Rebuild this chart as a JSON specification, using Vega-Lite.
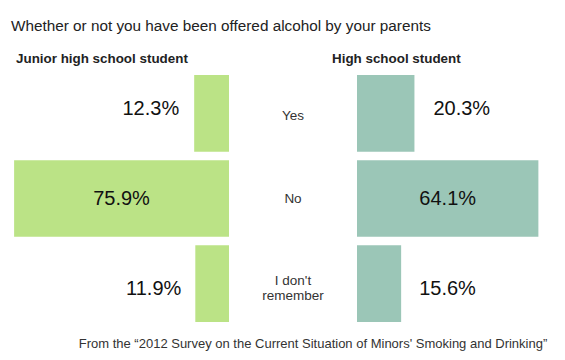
{
  "$schema": "https://vega.github.io/schema/vega-lite/v6.json",
  "padding": {"left": 11, "top": 19, "right": 0, "bottom": 0},
  "background": "white",
  "title": {"text": "Whether or not you have been offered alcohol by your parents", "anchor": "start", "fontSize": 15.3, "fontWeight": "normal", "color": "#222", "font": "Liberation Sans", "offset": 17},
  "config": {"view": {"stroke": null}, "font": "Liberation Sans", "concat": {"spacing": 0}},
  "data": {"values": [
    {"school": "junior", "answer": "Yes", "pct": 12.3},
    {"school": "junior", "answer": "No", "pct": 75.9},
    {"school": "junior", "answer": "I don't\nremember", "pct": 11.9},
    {"school": "high", "answer": "Yes", "pct": 20.3},
    {"school": "high", "answer": "No", "pct": 64.1},
    {"school": "high", "answer": "I don't\nremember", "pct": 15.6}
  ]},
  "transform": [
    {"calculate": "format(datum.pct, '.1f') + '%'", "as": "pctText"},
    {"calculate": "datum.pct / 2", "as": "mid"}
  ],
  "bounds": "flush",
  "hconcat": [
    {
      "width": 218, "height": 247,
      "title": {"text": "Junior high school student", "anchor": "start", "dx": 5, "fontSize": 13.4, "fontWeight": "bold", "color": "#222", "offset": 10},
      "transform": [{"filter": "datum.school == 'junior'"}],
      "encoding": {"y": {"field": "answer", "type": "nominal", "sort": ["Yes", "No", "I don't\nremember"], "axis": null, "scale": {"paddingInner": 0.1, "paddingOuter": 0}}},
      "layer": [
        {"mark": {"type": "bar", "color": "#bbe386"},
         "encoding": {"x": {"field": "pct", "type": "quantitative", "scale": {"domain": [0, 77], "reverse": true, "nice": false}, "axis": null}}},
        {"transform": [{"filter": "datum.answer == 'Yes'"}],
         "mark": {"type": "text", "align": "right", "baseline": "middle", "dx": -15, "dy": -4, "fontSize": 20, "color": "#111"},
         "encoding": {"x": {"field": "pct", "type": "quantitative"}, "text": {"field": "pctText"}}},
        {"transform": [{"filter": "datum.answer != 'Yes' && datum.answer != 'No'"}],
         "mark": {"type": "text", "align": "right", "baseline": "middle", "dx": -14, "dy": 5, "fontSize": 20, "color": "#111"},
         "encoding": {"x": {"field": "pct", "type": "quantitative"}, "text": {"field": "pctText"}}},
        {"transform": [{"filter": "datum.answer == 'No'"}],
         "mark": {"type": "text", "align": "center", "baseline": "middle", "fontSize": 20, "color": "#111"},
         "encoding": {"x": {"field": "mid", "type": "quantitative"}, "text": {"field": "pctText"}}}
      ]
    },
    {
      "width": 128, "height": 247,
      "title": {"text": "From the “2012 Survey on the Current Situation of Minors' Smoking and Drinking”", "orient": "bottom", "anchor": "middle", "dx": 20, "fontSize": 13, "fontWeight": "normal", "color": "#333", "offset": 16},
      "transform": [{"filter": "datum.school == 'junior'"}],
      "mark": {"type": "text", "fontSize": 13.5, "lineBreak": "\n", "lineHeight": 15, "color": "#333", "baseline": "middle"},
      "encoding": {
        "y": {"field": "answer", "type": "nominal", "sort": ["Yes", "No", "I don't\nremember"], "axis": null, "scale": {"paddingInner": 0.1, "paddingOuter": 0}},
        "text": {"field": "answer"}
      }
    },
    {
      "width": 191, "height": 247,
      "title": {"text": "High school student", "anchor": "start", "dx": -25, "fontSize": 13.4, "fontWeight": "bold", "color": "#222", "offset": 10},
      "transform": [{"filter": "datum.school == 'high'"}],
      "encoding": {"y": {"field": "answer", "type": "nominal", "sort": ["Yes", "No", "I don't\nremember"], "axis": null, "scale": {"paddingInner": 0.1, "paddingOuter": 0}}},
      "layer": [
        {"mark": {"type": "bar", "color": "#9bc6b7"},
         "encoding": {"x": {"field": "pct", "type": "quantitative", "scale": {"domain": [0, 67.5], "nice": false}, "axis": null}}},
        {"transform": [{"filter": "datum.answer == 'Yes'"}],
         "mark": {"type": "text", "align": "left", "baseline": "middle", "dx": 19, "dy": -4, "fontSize": 20, "color": "#111"},
         "encoding": {"x": {"field": "pct", "type": "quantitative"}, "text": {"field": "pctText"}}},
        {"transform": [{"filter": "datum.answer != 'Yes' && datum.answer != 'No'"}],
         "mark": {"type": "text", "align": "left", "baseline": "middle", "dx": 18, "dy": 5, "fontSize": 20, "color": "#111"},
         "encoding": {"x": {"field": "pct", "type": "quantitative"}, "text": {"field": "pctText"}}},
        {"transform": [{"filter": "datum.answer == 'No'"}],
         "mark": {"type": "text", "align": "center", "baseline": "middle", "fontSize": 20, "color": "#111"},
         "encoding": {"x": {"field": "mid", "type": "quantitative"}, "text": {"field": "pctText"}}}
      ]
    }
  ]
}
